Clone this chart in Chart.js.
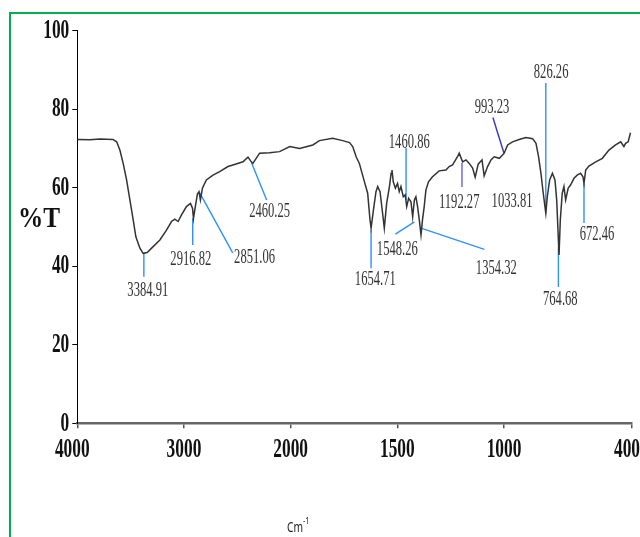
<!DOCTYPE html>
<html>
<head>
<meta charset="utf-8">
<script src="https://cdn.jsdelivr.net/npm/chart.js@4.4.1/dist/chart.umd.min.js"></script>
<style>
  html, body { margin: 0; padding: 0; background: #fff; overflow: hidden; }
  #frame { position: absolute; left: 9px; top: 12px; width: 700px; height: 700px; border: 2px solid #00b050; }
  #ftir { position: absolute; left: 0; top: 0; }
</style>
</head>
<body>
<div id="frame"></div>
<canvas id="ftir" width="640" height="537"></canvas>
<script>
const wavenumbers = [
  4000, 3881, 3788, 3666, 3631, 3601, 3570, 3538, 3507, 3476, 3451, 3413, 3383, 3345, 3289, 3226,
  3164, 3117, 3086, 3055, 3023, 2977, 2939, 2920, 2911, 2896, 2874, 2859, 2846, 2827, 2790, 2728,
  2665, 2588, 2541, 2447, 2400, 2369, 2354, 2291, 2197, 2104, 2008, 1958, 1896, 1865, 1803, 1756,
  1724, 1709, 1693, 1678, 1654, 1639, 1628, 1623, 1612, 1600, 1592, 1581, 1569, 1561, 1550, 1537,
  1529, 1525, 1519, 1509, 1499, 1491, 1483, 1472, 1463, 1456, 1447, 1436, 1428, 1420, 1413, 1405,
  1397, 1389, 1382, 1374, 1366, 1354, 1335, 1304, 1272, 1257, 1241, 1218, 1210, 1194, 1178, 1163,
  1147, 1135, 1121, 1103, 1093, 1077, 1061, 1046, 1022, 999, 983, 960, 929, 897, 866, 850,
  838, 827, 816, 808, 804, 797, 786, 773, 761, 753, 745, 742, 736, 727, 719, 711,
  699, 688, 672, 657, 641, 630, 625, 617, 602, 570, 539, 508, 477, 453, 438, 430,
  418, 407
];
const transmittance = [
  72.3, 72.2, 72.4, 72.3, 71.7, 69.6, 66.2, 62.0, 56.9, 51.8, 47.5, 44.6, 43.3, 43.5, 45.0, 46.7,
  49.2, 51.4, 52.0, 51.4, 53.1, 55.2, 56.0, 54.8, 52.2, 54.8, 58.4, 59.0, 56.9, 59.9, 62.0, 63.2,
  64.1, 65.4, 65.8, 66.6, 67.8, 66.6, 66.2, 68.8, 68.9, 69.2, 70.5, 70.0, 70.9, 72.0, 72.6, 72.0,
  71.5, 70.5, 67.9, 66.2, 61.5, 58.6, 51.8, 49.7, 54.3, 59.0, 60.3, 59.0, 53.5, 49.7, 56.0, 60.3,
  63.7, 64.5, 61.5, 59.9, 61.1, 59.0, 60.3, 57.7, 58.2, 55.2, 57.3, 56.4, 52.6, 56.9, 57.7, 55.2,
  51.8, 48.0, 51.8, 55.2, 59.4, 61.5, 62.8, 64.3, 64.5, 65.4, 65.8, 67.9, 68.8, 66.6, 67.1, 66.2,
  65.0, 62.7, 66.0, 67.1, 63.0, 65.4, 67.1, 67.9, 67.5, 68.8, 70.9, 71.7, 72.3, 72.8, 72.5, 71.3,
  67.9, 63.7, 58.6, 55.2, 53.5, 57.7, 62.0, 63.7, 62.0, 56.9, 46.7, 42.9, 51.8, 58.6, 60.3, 56.9,
  59.9, 60.7, 62.4, 63.2, 63.7, 62.8, 61.1, 64.5, 65.5, 66.6, 67.5, 69.6, 70.9, 71.7, 70.5, 71.3,
  71.7, 74.0
];
const xTicks = [4000, 3000, 2000, 1500, 1000, 400];
const yTicks = [0, 20, 40, 60, 80, 100];

// peak callouts: [wavenumber, %T] in the axis' own units
const peakNames = ['3384.91', '2916.82', '2851.06', '2460.25', '1654.71', '1460.86', '1548.26',
  '1354.32', '1192.27', '1033.81', '993.23', '826.26', '764.68', '672.46'];
const peakLineStart = [[3376, 43.4], [2918, 52.2], [2852, 58.7], [2366, 66.3], [1623, 49.2],
  [1459, 70.1], [1509, 48.2], [1389, 49.7], [1197, 66.3], null, [1052, 77.9], [804, 86.7],
  [745, 44.9], [625, 61.1]];
const peakLineEnd = [[3376, 37.3], [2918, 45.4], [2543, 43.4], [2225, 56.9], [1623, 39.5],
  [1459, 56.9], [1420, 51.3], [1092, 44.3], [1197, 60.2], null, [1000, 68.8], [804, 53.5],
  [745, 34.7], [625, 51.0]];
const peakLabelAt = [[3339, 33.7], [2936, 41.6], [2338, 42.1], [2197, 53.8], [1603, 36.5],
  [1444, 71.4], [1500, 44.1], [1036, 39.3], [1210, 56.1], [962, 56.4], [1056, 80.5], [779, 89.2],
  [736, 31.4], [564, 48.0]];

// x axis is linear in two pieces: 1000 cm-1 per step above 2000, 500 below
function toAxis(w) {
  return w >= 2000 ? (4000 - w) / 1000 : 2 + (2000 - w) / 500;
}

function lineColor(name) {
  if (name === '993.23') return '#3434c8';
  if (name === '1192.27') return '#6a5ee6';
  return '#2f90ff';
}

const datasets = [{
  data: wavenumbers.map((w, i) => ({ x: toAxis(w), y: transmittance[i] })),
  borderColor: '#333',
  borderWidth: 1.5,
  pointRadius: 0,
  showLine: true
}];
peakNames.forEach((name, i) => {
  if (!peakLineStart[i]) return;
  datasets.push({
    data: [peakLineStart[i], peakLineEnd[i]].map(p => ({ x: toAxis(p[0]), y: p[1] })),
    borderColor: lineColor(name),
    borderWidth: 1.4,
    pointRadius: 0,
    showLine: true,
    clip: false
  });
});

function squeezedText(ctx, text, x, y, font, sx, align, color) {
  ctx.save();
  ctx.translate(x, y);
  ctx.scale(sx, 1);
  ctx.font = font;
  ctx.fillStyle = color;
  ctx.textAlign = align;
  ctx.textBaseline = 'middle';
  ctx.fillText(text, 0, 0);
  ctx.restore();
}

const textLayer = {
  id: 'textLayer',
  afterDraw(chart) {
    const { ctx, chartArea, scales } = chart;
    const tickFont = 'bold 28px "Liberation Serif"';
    xTicks.forEach((w, i) => {
      // end labels sit a little left of their ticks in the original
      const nudge = (i === 0 || i === xTicks.length - 1) ? -5 : 0;
      squeezedText(ctx, String(w), scales.x.getPixelForValue(toAxis(w)) + nudge, chartArea.bottom + 26,
        tickFont, 0.62, 'center', '#111');
    });
    yTicks.forEach(v => {
      squeezedText(ctx, String(v), chartArea.left - 8, scales.y.getPixelForValue(v),
        tickFont, 0.62, 'right', '#111');
    });
    squeezedText(ctx, '%T', 39, 220, 'bold 29px "Liberation Serif"', 0.87, 'center', '#111');
    squeezedText(ctx, 'Cm', 287, 528, '14px "Noto Sans"', 0.73, 'left', '#222');
    squeezedText(ctx, '-1', 303, 521, '9px "Noto Sans"', 0.8, 'left', '#222');

    peakNames.forEach((name, i) => {
      const [w, t] = peakLabelAt[i];
      squeezedText(ctx, name, scales.x.getPixelForValue(toAxis(w)), scales.y.getPixelForValue(t),
        '20px "Liberation Serif"', 0.63, 'center', '#333');
    });
  }
};

new Chart(document.getElementById('ftir'), {
  type: 'scatter',
  data: { datasets },
  options: {
    responsive: false,
    animation: false,
    layout: { padding: { left: 72.3, right: 8, top: 30.7, bottom: 108.7 } },
    plugins: { legend: { display: false }, tooltip: { enabled: false } },
    scales: {
      x: {
        type: 'linear',
        min: 0,
        max: toAxis(400),
        afterBuildTicks: s => { s.ticks = xTicks.map(w => ({ value: toAxis(w) })); },
        ticks: { display: false },
        grid: { display: true, drawOnChartArea: false, drawTicks: true, tickLength: 5, tickColor: '#555', lineWidth: 1.5 },
        border: { display: true, color: '#666', width: 2.5 }
      },
      y: {
        min: 0,
        max: 100,
        afterBuildTicks: s => { s.ticks = yTicks.map(v => ({ value: v })); },
        ticks: { display: false },
        grid: { display: true, drawOnChartArea: false, drawTicks: true, tickLength: 5, tickColor: '#000', lineWidth: 1 },
        border: { display: true, color: '#000', width: 1 }
      }
    }
  },
  plugins: [textLayer]
});
</script>
</body>
</html>
